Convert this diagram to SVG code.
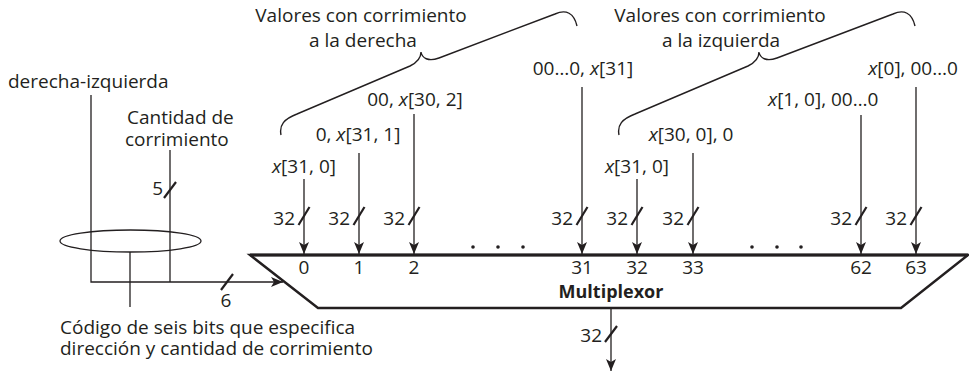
<svg xmlns="http://www.w3.org/2000/svg" width="969" height="374" viewBox="0 0 969 374">
<style>
text{font-family:"Open Sans","Noto Sans",sans-serif;font-size:19px;fill:#231f20}
.c{text-anchor:middle}
.r{text-anchor:end}
.i{font-style:italic}
.b{font-weight:bold;font-size:18px}
.ln{stroke:#231f20;stroke-width:1.3;fill:none}
.sl{stroke:#231f20;stroke-width:2.2;fill:none}
.br{stroke:#231f20;stroke-width:1.4;fill:none}
.dot{fill:#231f20}
</style>
<defs>
<marker id="ah" viewBox="0 0 12 10" refX="12" refY="5" markerWidth="12" markerHeight="10" orient="auto" markerUnits="userSpaceOnUse">
<path d="M0,0 L12,5 L0,10 L3,5 z" fill="#231f20"/>
</marker>
</defs>
<rect width="969" height="374" fill="#fff"/>

<g id="braces">
<path class="br" d="M281,135 C279,125 284,119 297,114 L410,66 C418,62 421,58 421,52 C422,58 428,62 439,58 L555,14 C566,9 574,13 577,26"/>
<path class="br" d="M619,135 C617,125 622,119 635,114 L748,66 C756,62 759,58 759,52 C760,58 766,62 777,58 L893,14 C904,9 912,13 915,26"/>
</g>

<g id="titles">
<text x="361" y="22" class="c">Valores con corrimiento</text>
<text x="363" y="47" class="c">a la derecha</text>
<text x="720" y="22" class="c">Valores con corrimiento</text>
<text x="721" y="47" class="c">a la izquierda</text>
</g>

<g id="input-labels">
<text x="304" y="173" class="c"><tspan class="i">x</tspan>[31, 0]</text>
<text x="358" y="141" class="c">0, <tspan class="i">x</tspan>[31, 1]</text>
<text x="415" y="106" class="c">00, <tspan class="i">x</tspan>[30, 2]</text>
<text x="583" y="75" class="c">00…0, <tspan class="i">x</tspan>[31]</text>
<text x="637" y="173" class="c"><tspan class="i">x</tspan>[31, 0]</text>
<text x="691" y="141" class="c"><tspan class="i">x</tspan>[30, 0], 0</text>
<text x="768" y="106"><tspan class="i">x</tspan>[1, 0], 00…0</text>
<text x="913" y="75" class="c"><tspan class="i">x</tspan>[0], 00…0</text>
</g>

<g id="control-labels">
<text x="8" y="88">derecha-izquierda</text>
<text x="127" y="124">Cantidad de</text>
<text x="125" y="146">corrimiento</text>
<text x="163" y="195" class="r">5</text>
<text x="226" y="307" class="c">6</text>
<text x="60" y="334">Código de seis bits que especifica</text>
<text x="60" y="355">dirección y cantidad de corrimiento</text>
</g>

<g id="ellipse">
<ellipse cx="130.5" cy="241" rx="70.5" ry="11" class="ln"/>
</g>

<g id="mux">
<polygon points="250,255 968,255 901,308 318,308" fill="none" stroke="#231f20" stroke-width="2.4" stroke-linejoin="miter"/>
<line x1="250" y1="255" x2="968" y2="255" stroke="#231f20" stroke-width="2.8"/>
<text x="304" y="274" class="c">0</text>
<text x="359" y="274" class="c">1</text>
<text x="414" y="274" class="c">2</text>
<text x="582" y="274" class="c">31</text>
<text x="637" y="274" class="c">32</text>
<text x="693" y="274" class="c">33</text>
<text x="861" y="274" class="c">62</text>
<text x="916" y="274" class="c">63</text>
<text x="611" y="298" class="c b">Multiplexor</text>
<circle cx="473" cy="247" r="1.8" class="dot"/>
<circle cx="498" cy="247" r="1.8" class="dot"/>
<circle cx="523" cy="247" r="1.8" class="dot"/>
<circle cx="752" cy="247" r="1.8" class="dot"/>
<circle cx="777" cy="247" r="1.8" class="dot"/>
<circle cx="801" cy="247" r="1.8" class="dot"/>
</g>

<g id="connectors">
<line class="ln" x1="304" y1="179" x2="304" y2="254" marker-end="url(#ah)"/>
<line class="ln" x1="359" y1="153" x2="359" y2="254" marker-end="url(#ah)"/>
<line class="ln" x1="414" y1="114" x2="414" y2="254" marker-end="url(#ah)"/>
<line class="ln" x1="582" y1="87" x2="582" y2="254" marker-end="url(#ah)"/>
<line class="ln" x1="637" y1="179" x2="637" y2="254" marker-end="url(#ah)"/>
<line class="ln" x1="693" y1="153" x2="693" y2="254" marker-end="url(#ah)"/>
<line class="ln" x1="861" y1="115" x2="861" y2="254" marker-end="url(#ah)"/>
<line class="ln" x1="916" y1="87" x2="916" y2="254" marker-end="url(#ah)"/>
<line class="ln" x1="611" y1="309" x2="611" y2="371" marker-end="url(#ah)"/>
<polyline class="ln" points="91,95 91,282 283,282" marker-end="url(#ah)"/>
<polyline class="ln" points="170,150 170,282"/>
<line class="ln" x1="130" y1="252" x2="130" y2="307"/>
</g>

<g id="bus-widths">
<g class="sl">
<line x1="298.5" y1="225" x2="309.5" y2="207"/>
<line x1="353.5" y1="225" x2="364.5" y2="207"/>
<line x1="408.5" y1="225" x2="419.5" y2="207"/>
<line x1="576.5" y1="225" x2="587.5" y2="207"/>
<line x1="631.5" y1="225" x2="642.5" y2="207"/>
<line x1="687.5" y1="225" x2="698.5" y2="207"/>
<line x1="855.5" y1="225" x2="866.5" y2="207"/>
<line x1="910.5" y1="225" x2="921.5" y2="207"/>
<line x1="605" y1="342" x2="617" y2="326"/>
<line x1="164" y1="198" x2="176" y2="182"/>
<line x1="221" y1="290" x2="233" y2="274"/>
</g>
<text x="295" y="225" class="r">32</text>
<text x="350" y="225" class="r">32</text>
<text x="405" y="225" class="r">32</text>
<text x="573" y="225" class="r">32</text>
<text x="628" y="225" class="r">32</text>
<text x="684" y="225" class="r">32</text>
<text x="852" y="225" class="r">32</text>
<text x="907" y="225" class="r">32</text>
<text x="602" y="342" class="r">32</text>
</g>
</svg>
